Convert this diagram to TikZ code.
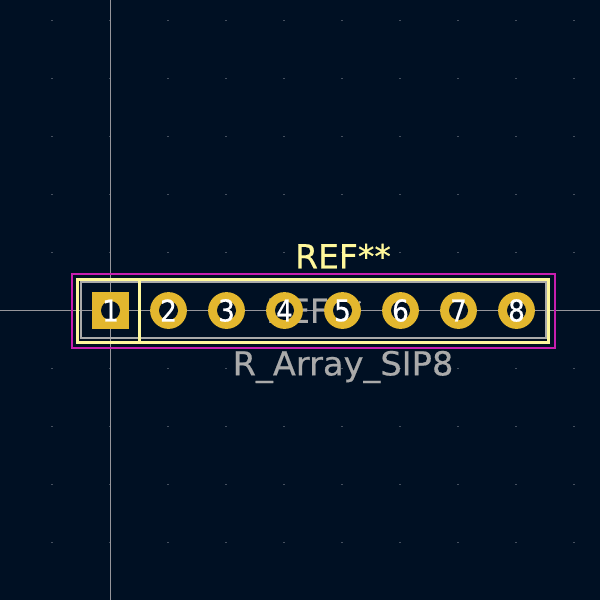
\documentclass[tikz,border=0pt]{standalone}
\usepackage{fontspec}
\setmainfont{DejaVu Sans}
\newfontfamily\kifont[FakeBold=0.5]{DejaVu Sans}
\definecolor{bgc}{RGB}{0,16,35}
\definecolor{padc}{RGB}{227,183,46}
\definecolor{silk}{RGB}{255,248,155}
\definecolor{fabc}{RGB}{170,170,170}
\definecolor{crtc}{RGB}{200,30,175}
\definecolor{cross}{RGB}{150,150,155}
\definecolor{griddot}{RGB}{70,80,95}
\tikzset{
  x=1pt,y=-1pt,
  padround/.style={circle,fill=padc,minimum size=36.8pt,inner sep=0pt,outer sep=0pt},
  padsquare/.style={rectangle,fill=padc,minimum size=36.6pt,inner sep=0pt,outer sep=0pt},
  holec/.style={circle,fill=bgc,minimum size=19pt,inner sep=0pt},
  pinnum/.style={text=white,font=\kifont\fontsize{30}{30}\selectfont,inner sep=0pt,xscale=0.88},
  silkline/.style={draw=silk,line width=3pt},
  fabline/.style={draw=fabc,line width=2pt},
  crtline/.style={draw=crtc,line width=1.8pt},
  crossline/.style={draw=cross,line width=1.3pt},
  bigtext/.style={font=\kifont\fontsize{33}{33}\selectfont,inner sep=0pt},
}
\begin{document}
\begin{tikzpicture}
\useasboundingbox (0,0) rectangle (600,600);
\fill[bgc] (0,0) rectangle (600,600);
\foreach \gx in {0,...,10}{\foreach \gy in {0,...,10}{
  \fill[griddot] ({52+58*\gx-0.6},{20.5+58*\gy-0.6}) rectangle ++(1.2,1.2);
}}
\draw[crossline] (110.5,0) -- (110.5,600);
\draw[crossline] (0,310.5) -- (600,310.5);
\draw[crtline] (72,273.8) rectangle (555,347.8);
\draw[fabline] (80.8,281.8) rectangle (545.5,338.3);
\draw[silkline] (77.3,279) rectangle (548.5,342);
\draw[silkline] (139.8,279) -- (139.8,342);
\node[text=fabc,bigtext] (fabref) at (314,310.5) {REF**};
\node[padsquare] (p1) at (110.5,310.5) {};
\foreach \n/\px in {2/168.5,3/226.5,4/284.5,5/342.5,6/400.5,7/458.5,8/516.5}{
  \node[padround] (p\n) at (\px,310.5) {};
}
\foreach \n in {1,...,8}{
  \node[holec] at (p\n) {};
  \node[pinnum] at (p\n) {\n};
}
\node[text=silk,bigtext] (ref) at (343,256) {REF**};
\node[text=fabc,bigtext,xscale=1.02] (val) at (343,367) {R\_Array\_SIP8};
\end{tikzpicture}
\end{document}
